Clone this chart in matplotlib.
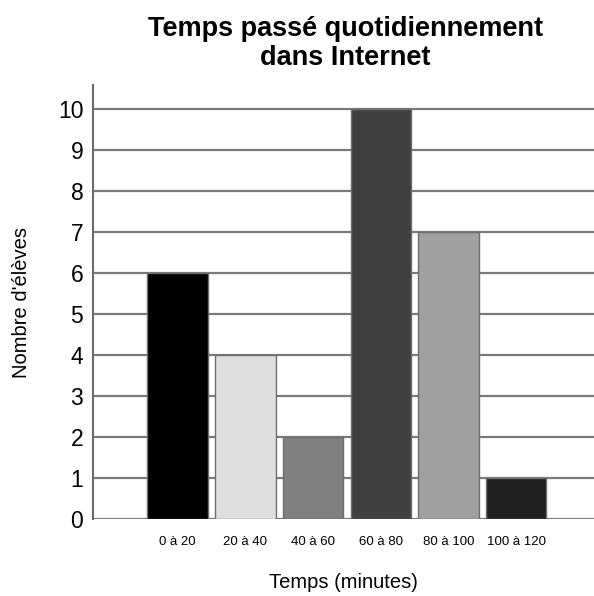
import matplotlib.pyplot as plt

# Daily time spent on the Internet, number of students per range
categories = ["0 à 20", "20 à 40", "40 à 60", "60 à 80", "80 à 100", "100 à 120"]
students = [6, 4, 2, 10, 7, 1]
bar_colors = ["#000000", "#dedede", "#808080", "#404040", "#a0a0a0", "#202020"]

plt.rcParams['font.family'] = ['Liberation Sans', 'DejaVu Sans']

fig = plt.figure(figsize=(5.94, 5.96), dpi=100)
ax = fig.add_axes([0.1566, 0.129, 0.8434, 0.728])

x = list(range(len(categories)))
ax.bar(x, students, width=0.893, color=bar_colors, edgecolor="#6e6e6e",
       linewidth=1.0, zorder=3)

ax.set_xlim(-1.25, 6.15)
ax.set_ylim(0, 10.58)
ax.set_yticks(range(0, 11))
ax.yaxis.grid(True, color="#7a7a7a", linewidth=1.6, zorder=0)
ax.set_axisbelow(True)

ax.set_xticks(x)
ax.set_xticklabels(categories, fontsize=9.5)
ax.tick_params(axis='both', length=0)
ax.tick_params(axis='y', labelsize=16.5, pad=7)
ax.tick_params(axis='x', pad=12)

for side in ["top", "right", "bottom"]:
    ax.spines[side].set_visible(False)
ax.spines["left"].set_color("#6a6a6a")
ax.spines["left"].set_linewidth(1.5)

ax.set_xlabel("Temps (minutes)", fontsize=14.5, labelpad=18)
ax.set_ylabel("Nombre d'élèves", fontsize=14.5, labelpad=19)

fig.text(0.581, 0.927, "Temps passé quotidiennement\ndans Internet",
         ha="center", va="center", fontsize=19.5, fontweight="bold",
         linespacing=1.15)

fig.savefig("out.png", dpi=100)
